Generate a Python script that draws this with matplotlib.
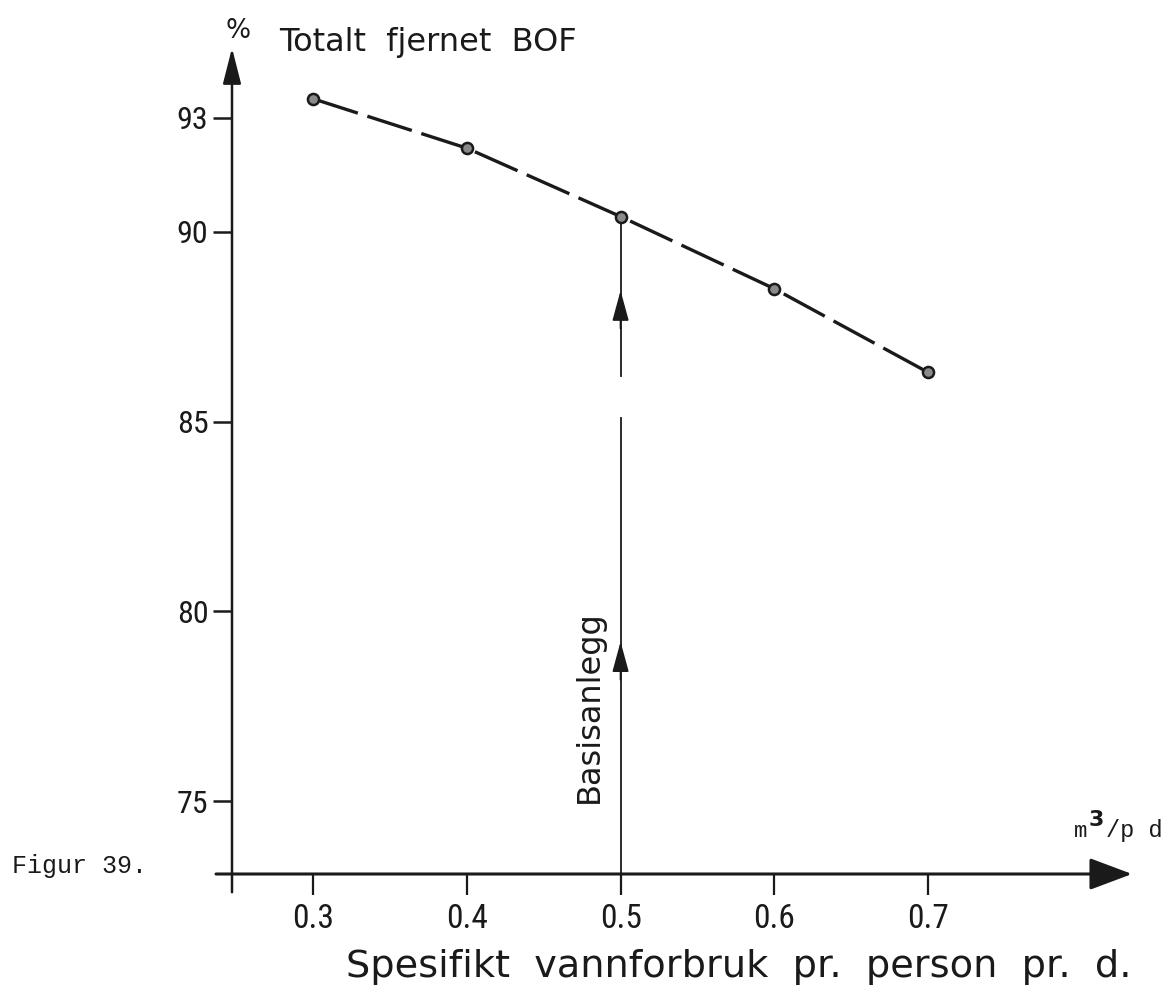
import matplotlib.pyplot as plt

# Totalt fjernet BOF (%) mot spesifikt vannforbruk (m3/p d)
vannforbruk = [0.3, 0.4, 0.5, 0.6, 0.7]
fjernet_bof = [93.5, 92.2, 90.4, 88.5, 86.3]

x_ticks = [0.3, 0.4, 0.5, 0.6, 0.7]
x_ticklabels = ['0.3', '0.4', '0.5', '0.6', '0.7']
y_ticks = [75, 80, 85, 90, 93]

basis_x = 0.5
basis_y = 90.4

ink = '#1a1a1a'
narrow = ['Liberation Sans Narrow', 'DejaVu Sans Condensed', 'Roboto Condensed', 'DejaVu Sans']
mono = ['Liberation Mono', 'DejaVu Sans Mono']

fig = plt.figure(figsize=(11.75, 9.9), dpi=100)
W, H = 1175, 990

# aksene plasseres slik at y-aksen ligger ved 0.247 og x-aksen ved 73.08
ax = fig.add_axes([232 / W, (H - 874) / H, 900 / W, (874 - 48) / H])
x0, x1 = 0.247, 0.833
y0, y1 = 73.08, 94.84
ax.set_xlim(x0, x1)
ax.set_ylim(y0, y1)
for s in ax.spines.values():
    s.set_visible(False)

ax.set_xticks(x_ticks)
ax.set_xticklabels(x_ticklabels, family=narrow, fontsize=24, color=ink)
ax.set_yticks(y_ticks)
ax.set_yticklabels([str(v) for v in y_ticks], family=narrow, fontsize=23, color=ink)
ax.tick_params(axis='x', direction='out', length=15, width=1.6, pad=6, colors=ink)
ax.tick_params(axis='y', direction='out', length=14, width=1.8, pad=3, colors=ink)

# akselinjer med piler
ax.annotate('', xy=(x0, y1), xytext=(x0, 72.6),
            arrowprops=dict(arrowstyle='-|>,head_length=1.1,head_width=0.28',
                            mutation_scale=20, lw=1.8, color=ink,
                            shrinkA=0, shrinkB=0),
            annotation_clip=False)
ax.annotate('', xy=(x1, y0), xytext=(0.2366, y0),
            arrowprops=dict(arrowstyle='-|>,head_length=1.2,head_width=0.45',
                            mutation_scale=22, lw=2.2, color=ink,
                            shrinkA=0, shrinkB=0),
            annotation_clip=False)

# kurven
ax.plot(vannforbruk, fjernet_bof, color=ink, lw=2.4, dashes=(14, 3),
        marker='o', ms=8, mfc='#8a8a8a', mec=ink, mew=1.8, clip_on=False, zorder=3)

# basisanlegg-linje med brudd og piler
ax.plot([basis_x, basis_x], [y0, 85.1], color=ink, lw=1.3)
ax.plot([basis_x, basis_x], [86.2, basis_y], color=ink, lw=1.3)
for tip in (79.2, 88.45):
    ax.annotate('', xy=(basis_x, tip), xytext=(basis_x, tip - 1.0),
                arrowprops=dict(arrowstyle='-|>,head_length=1.1,head_width=0.3',
                                mutation_scale=17, lw=1.3, color=ink,
                                shrinkA=0, shrinkB=0))
ax.text(0.480, 77.5, 'Basisanlegg', rotation=90, ha='center', va='center',
        fontsize=23, color=ink)

# tekster rundt diagrammet
fig.text(238 / W, 1 - 31 / H, '%', ha='center', va='center', fontsize=19, color=ink)
fig.text(279 / W, 1 - 42 / H, 'Totalt  fjernet  BOF', ha='left', va='center',
         fontsize=23, color=ink)
fig.text(1074 / W, 1 - 837 / H, 'm', ha='left', va='baseline',
         family=mono, fontsize=16, color=ink)
fig.text(1089 / W, 1 - 826 / H, '3', ha='left', va='baseline',
         fontsize=16, fontweight='bold', color=ink)
fig.text(1106 / W, 1 - 837 / H, '/p d', ha='left', va='baseline',
         family=mono, fontsize=17, color=ink)
fig.text(12 / W, 1 - 866 / H, 'Figur 39.', ha='left', va='center',
         family=mono, fontsize=18, color=ink)
fig.text(739 / W, 1 - 977 / H, 'Spesifikt  vannforbruk  pr.  person  pr.  d.',
         ha='center', va='baseline', fontsize=27.5, color=ink)

fig.savefig('out.png', dpi=100)
